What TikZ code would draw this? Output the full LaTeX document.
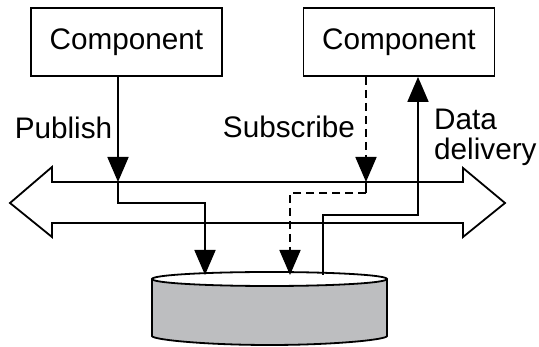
\documentclass[tikz,border=0pt]{standalone}
\usepackage{fontspec}
\setmainfont{Liberation Sans}
\usetikzlibrary{arrows.meta}
\definecolor{drum}{RGB}{189,190,192}
\tikzset{
  every picture/.style={x=1pt,y=-1pt},
  lbl/.style={font=\fontsize{29.7}{30}\selectfont, inner sep=0pt},
  compbox/.style={draw, line width=1.8pt, minimum width=191pt, minimum height=68pt,
    font=\fontsize{29.7}{30}\selectfont, inner sep=0pt},
  flow/.style={line width=1.8pt, -{Triangle[length=25pt,width=21pt]}},
  plain/.style={line width=1.8pt},
  dashline/.style={dash pattern=on 8pt off 5pt},
}
\begin{document}
\begin{tikzpicture}
\useasboundingbox (0,0) rectangle (539,347);

% components
\node[compbox] (comp1) at (126.5,42) {Component};
\node[compbox] (comp2) at (399,42) {Component};

% message bus: double-headed block arrow
\draw[line width=1.8pt, fill=white]
  (10,203) -- (52,167) -- (52,182) -- (463,182) -- (463,168) -- (505,203)
  -- (463,237) -- (463,223) -- (52,223) -- (52,237) -- cycle;

% data store drum
\draw[line width=1.8pt, fill=drum, rounded corners=3pt]
  (152,279) -- (152,333) arc[start angle=180, end angle=360, x radius=117.5, y radius=-12]
  -- (387,279);
\draw[line width=1.8pt, fill=white] (269.5,279) ellipse[x radius=117.5, y radius=7];

% anchor points on the bus and the drum
\coordinate (pubin) at (118,182);
\coordinate (pubturn) at (118,203);
\coordinate (pubdrum) at (205,275);
\coordinate (subin) at (366,182);
\coordinate (subturn) at (366,193);
\coordinate (subdrum) at (290,275);
\coordinate (delsrc) at (323,275);
\coordinate (delturn) at (323,215);
\coordinate (delup) at (418,215);

% publish path
\draw[flow] (comp1.south -| pubin) -- (pubin);
\draw[flow] (pubin) -- (pubturn) -| (pubdrum);

% subscribe path
\draw[flow, dashline] (comp2.south -| subin) -- (subin);
\draw[plain] (subin) -- (subturn);
\draw[flow, dashline] (subturn) -| (subdrum);

% data delivery path
\draw[flow] (delsrc) -- (delturn) -- (delup) -- (comp2.south -| delup);

% labels
\node[lbl, anchor=base] (publish) at (63.5,139) {Publish};
\node[lbl, anchor=base] (subscribe) at (289,138) {Subscribe};
\node[lbl, anchor=north west, align=left] (delivery) at (434,109) {Data\\delivery};
\end{tikzpicture}
\end{document}
